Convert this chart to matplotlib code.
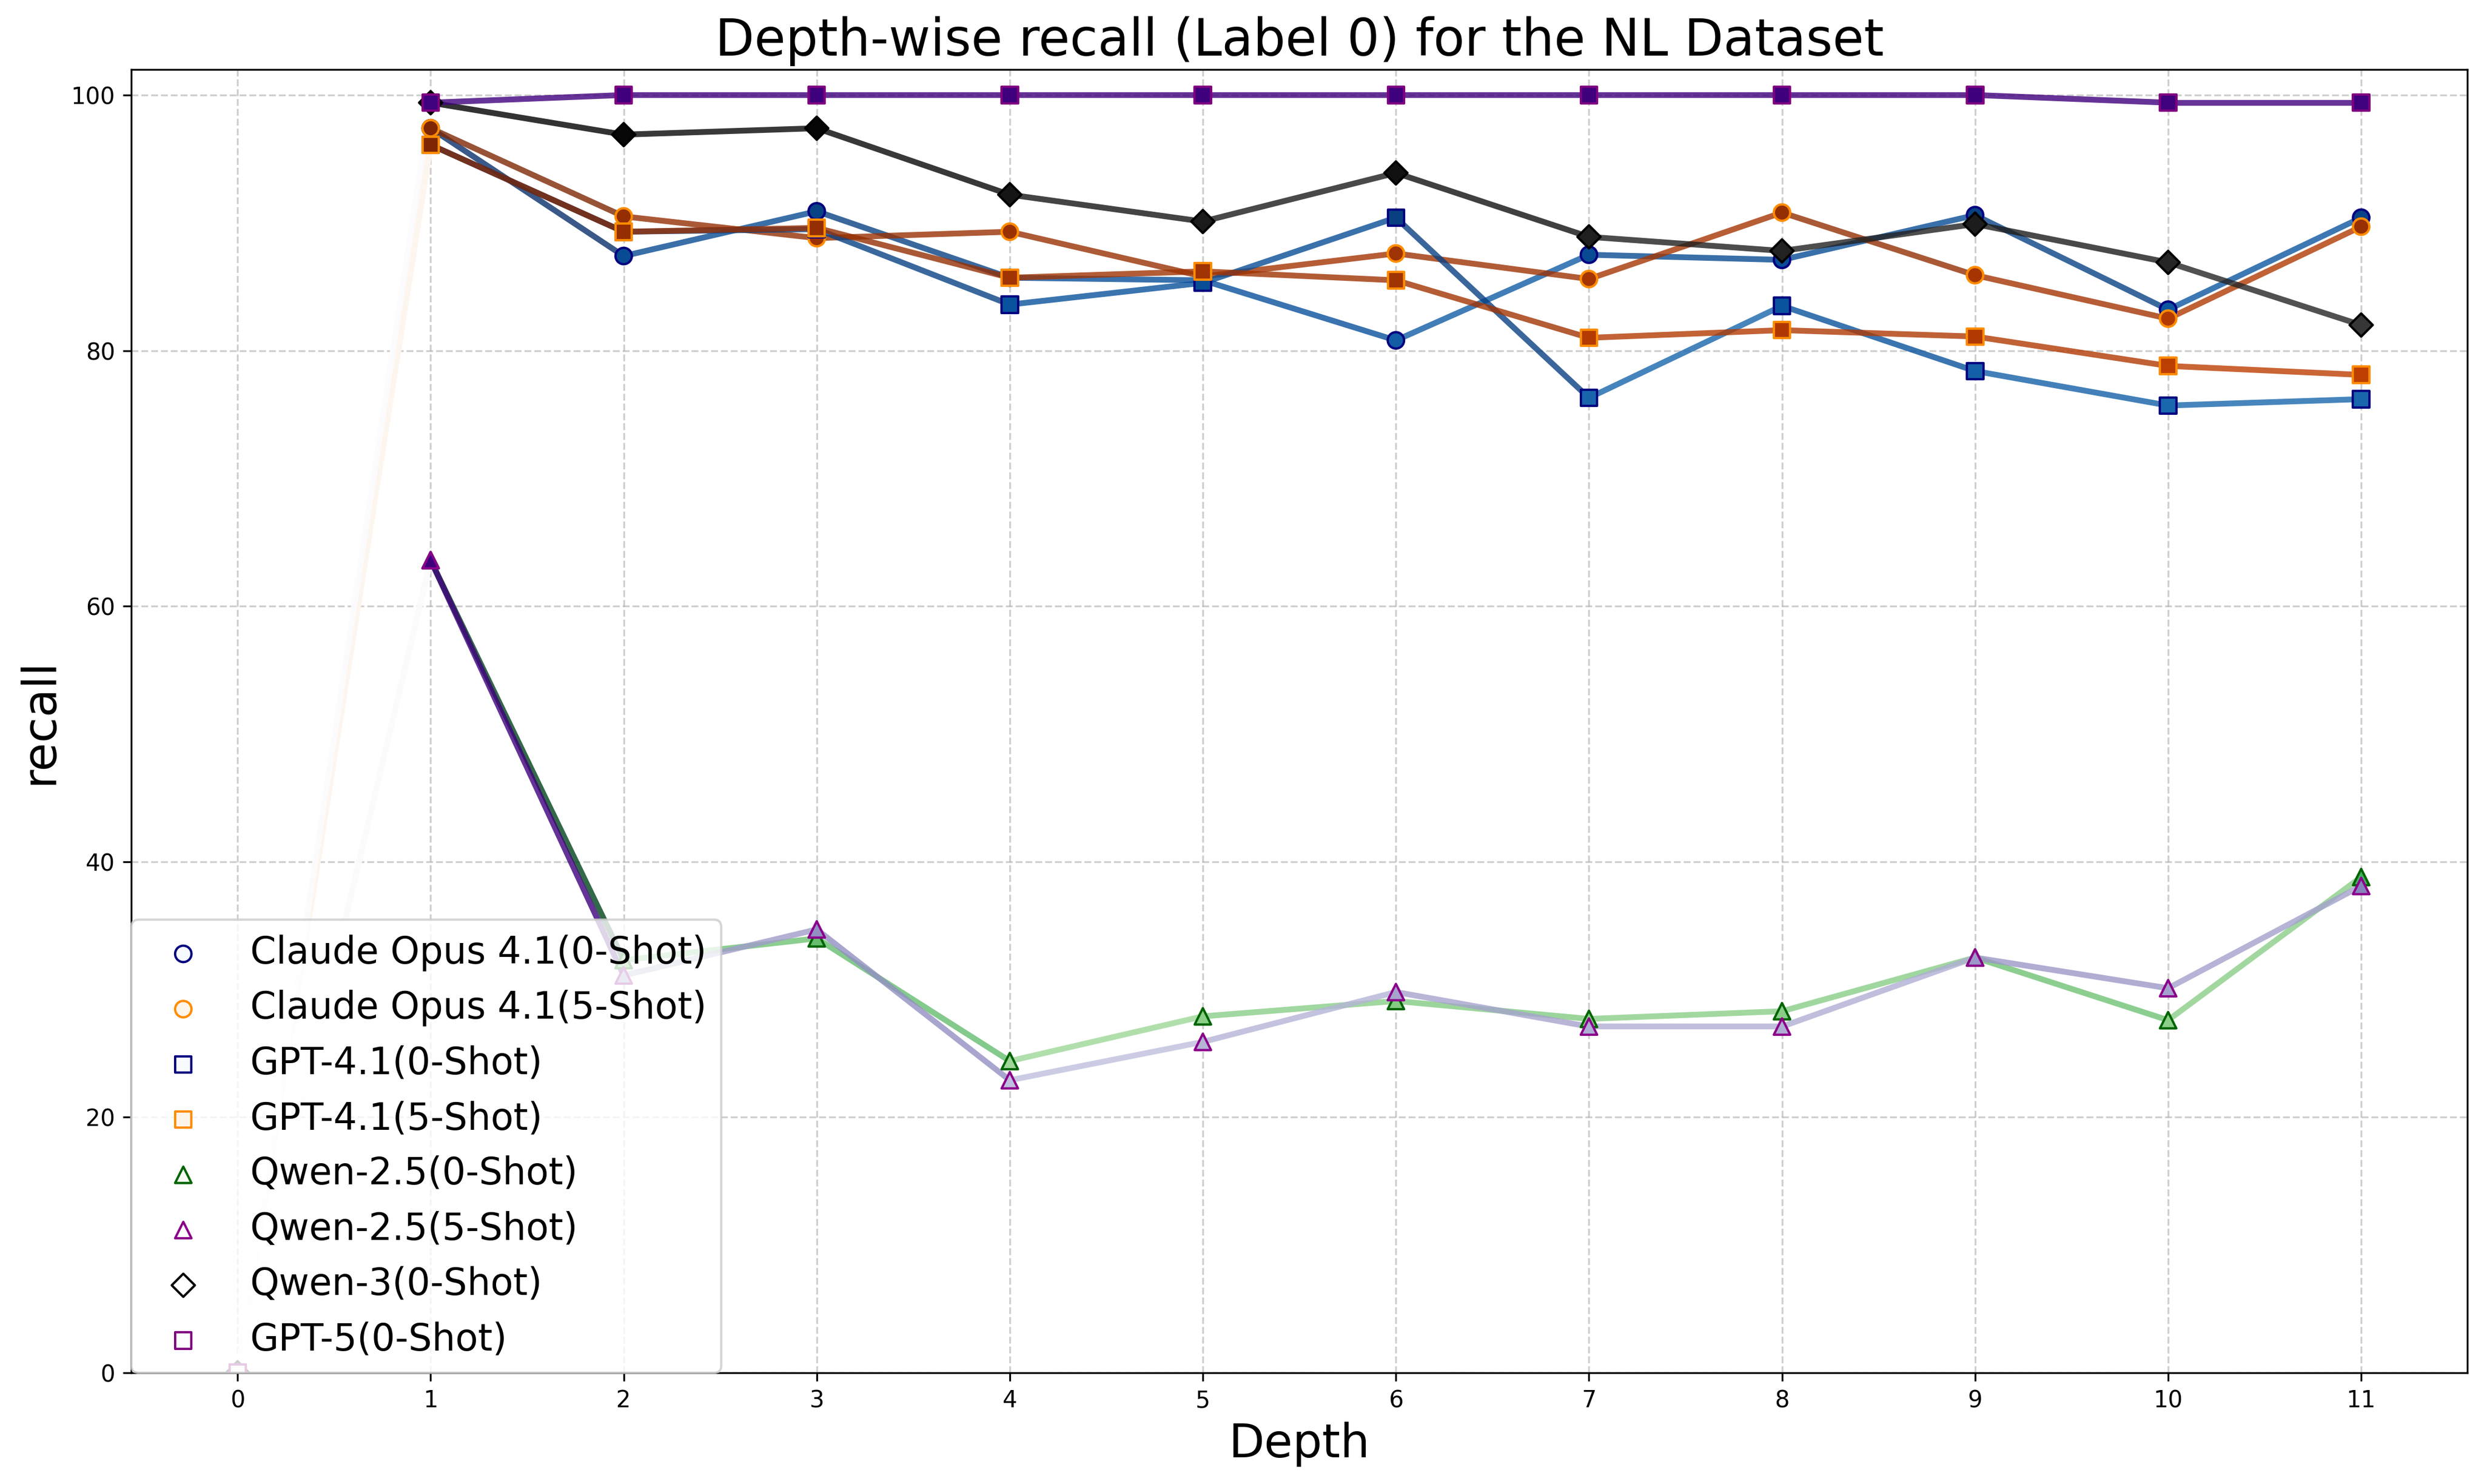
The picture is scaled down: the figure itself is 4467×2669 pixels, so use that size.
import numpy as np
import matplotlib
matplotlib.use('Agg')
import matplotlib.pyplot as plt
from matplotlib.colors import Normalize

# Глубина и значения recall (Label 0)
depths = list(range(12))

claude_0shot = [0, 97.4, 87.4, 90.9, 85.7, 85.5, 80.8, 87.5, 87.1, 90.6, 83.2, 90.4]
claude_5shot = [0, 97.4, 90.5, 88.8, 89.3, 85.8, 87.6, 85.6, 90.8, 85.9, 82.5, 89.7]
gpt41_0shot = [0, 96.1, 89.3, 89.5, 83.6, 85.3, 90.4, 76.3, 83.5, 78.4, 75.7, 76.2]
gpt41_5shot = [0, 96.1, 89.3, 89.6, 85.7, 86.2, 85.5, 81.0, 81.6, 81.1, 78.8, 78.1]
qwen25_0shot = [0, 63.6, 32.3, 34.0, 24.4, 27.9, 29.1, 27.7, 28.3, 32.5, 27.6, 38.8]
qwen25_5shot = [0, 63.6, 31.1, 34.7, 22.9, 25.9, 29.8, 27.1, 27.1, 32.5, 30.1, 38.1]
qwen3_0shot = [0, 99.4, 96.9, 97.4, 92.2, 90.1, 93.9, 88.9, 87.8, 89.9, 86.9, 82.0]
gpt5_0shot = [0, 99.4, 100, 100, 100, 100, 100, 100, 100, 100, 99.4, 99.4]

labels = ['Claude Opus 4.1(0-Shot)', 'Claude Opus 4.1(5-Shot)',
          'GPT-4.1(0-Shot)', 'GPT-4.1(5-Shot)',
          'Qwen-2.5(0-Shot)', 'Qwen-2.5(5-Shot)',
          'Qwen-3(0-Shot)', 'GPT-5(0-Shot)']
series = [claude_0shot, claude_5shot, gpt41_0shot, gpt41_5shot,
          qwen25_0shot, qwen25_5shot, qwen3_0shot, gpt5_0shot]
cmaps = ['Blues', 'Oranges', 'Blues', 'Oranges', 'Greens', 'Purples', 'Greys', 'Purples']
markers = ['o', 'o', 's', 's', '^', '^', 'D', 's']
edges = ['navy', 'darkorange', 'navy', 'darkorange', 'darkgreen', 'darkmagenta', 'black', 'purple']

fig, ax = plt.subplots(figsize=(4467 / 300, 2669 / 300))
fig.subplots_adjust(left=0.0529, right=0.9933, bottom=0.0749, top=0.9532)

for vals, lab, cm, m, ec in zip(series, labels, cmaps, markers, edges):
    cmap = plt.get_cmap(cm)
    norm = Normalize(vmin=min(vals), vmax=max(vals))
    # каждый отрезок окрашен по значению в его начале
    for i in range(len(depths) - 1):
        ax.plot(depths[i:i + 2], vals[i:i + 2], color=cmap(norm(vals[i])),
                linewidth=2.5, alpha=0.8, zorder=2)
    ax.scatter(depths, vals, c=vals, cmap=cmap, norm=norm, marker=m, s=50,
               edgecolors=ec, linewidths=1.0, label=lab, zorder=3)

ax.set_title('Depth-wise recall (Label 0) for the NL Dataset', fontsize=22)
ax.set_xlabel('Depth', fontsize=20)
ax.set_ylabel('recall', fontsize=20)
ax.set_xticks(depths)
ax.set_ylim(0, 102)
ax.grid(True, linestyle='--', alpha=0.6)
ax.legend(loc='lower left', fontsize=16, borderaxespad=0)

fig.savefig('out.png', dpi=300)
